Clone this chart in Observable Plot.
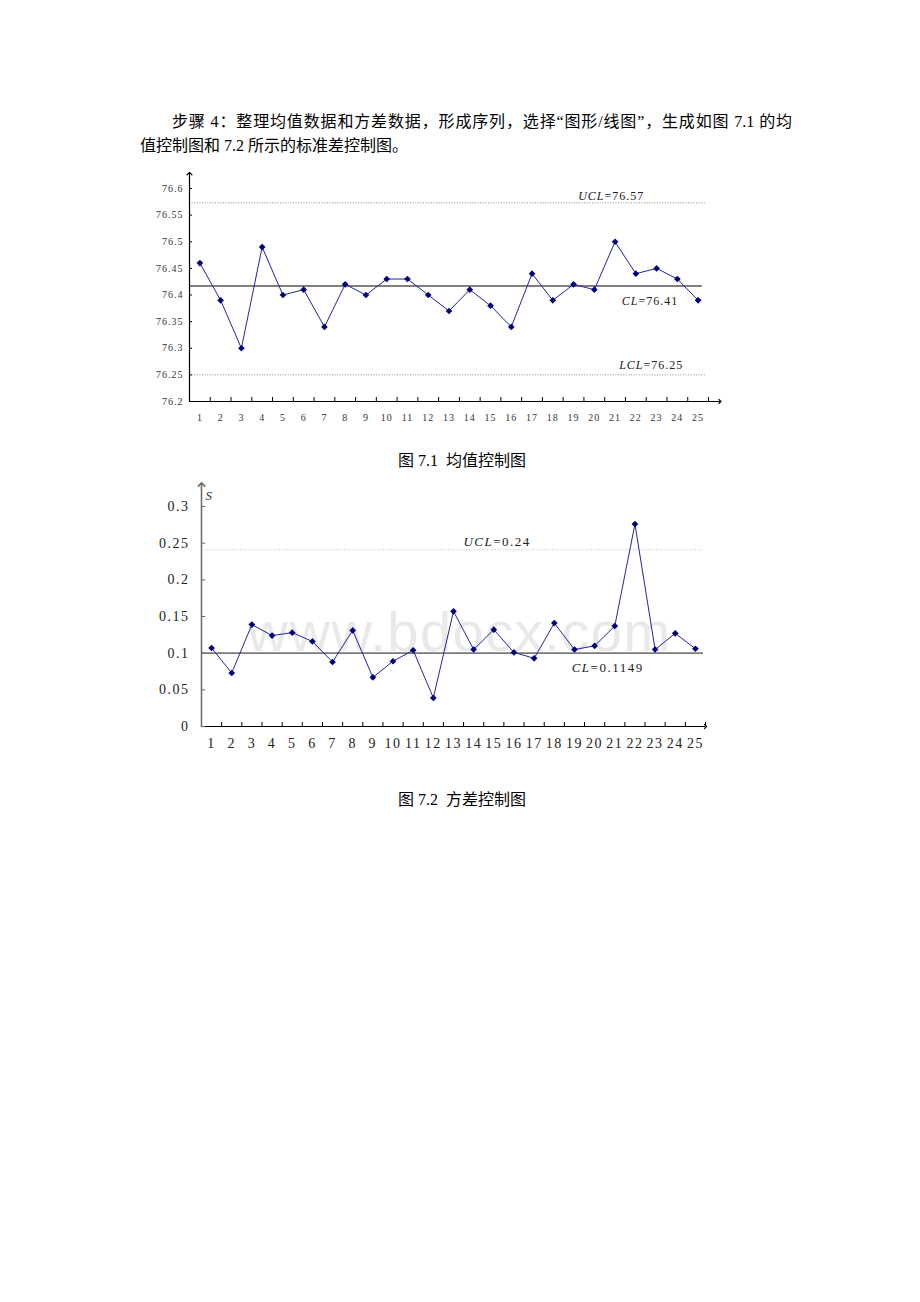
<!DOCTYPE html>
<html lang="zh-CN"><head><meta charset="utf-8">
<script src="https://cdn.jsdelivr.net/npm/d3@7"></script>
<script src="https://cdn.jsdelivr.net/npm/@observablehq/plot@0.6"></script>
<style>
body{margin:0;background:#fff;width:920px;height:1302px;position:relative;overflow:hidden;font-family:"Liberation Serif","Noto Sans CJK SC",serif;color:#000;}
.p{position:absolute;font-size:16px;line-height:24px;}
#l1{left:172px;top:110px;width:620px;text-align:justify;text-align-last:justify;}
#l2{left:140px;top:134px;white-space:nowrap;}
.cap{position:absolute;left:0;width:920px;text-align:center;font-size:16px;line-height:24px;white-space:pre;}
#c1{top:449px;padding-left:2px}
#c2{top:788px;padding-left:2px}
#ch1{position:absolute;left:0;top:170px}
#ch2{position:absolute;left:0;top:480px}
#ch1 svg text{letter-spacing:1px}
#ch2 svg text{letter-spacing:1.5px}
#ch2 svg text.wm{letter-spacing:0}
</style></head>
<body>
<div class="p" id="l1">步骤 4：整理均值数据和方差数据，形成序列，选择“图形/线图”，生成如图 7.1 的均</div>
<div class="p" id="l2">值控制图和 7.2 所示的标准差控制图。</div>
<div id="ch1"></div>
<div class="cap" id="c1">图 7.1  均值控制图</div>
<div id="ch2"></div>
<div class="cap" id="c2">图 7.2  方差控制图</div>
<script>
// ---------- data ----------
const samples = d3.range(1, 26);
const meanValues = [76.46,76.39,76.30,76.49,76.40,76.41,76.34,76.42,76.40,76.43,76.43,76.40,76.37,76.41,76.38,76.34,76.44,76.39,76.42,76.41,76.50,76.44,76.45,76.43,76.39];
const meanTicks = [76.2,76.25,76.3,76.35,76.4,76.45,76.5,76.55,76.6];
const meanLimitNames = ["UCL","CL","LCL"];
const meanLimitValues = [76.573, 76.417, 76.25];
const meanLimitTexts = ["=76.57","=76.41","=76.25"];

const sdValues = [0.107,0.073,0.139,0.124,0.128,0.116,0.088,0.131,0.067,0.089,0.104,0.039,0.157,0.105,0.132,0.101,0.093,0.141,0.105,0.110,0.137,0.276,0.105,0.127,0.106];
const sdTicks = [0,0.05,0.1,0.15,0.2,0.25,0.3];
const sdLimitNames = ["UCL","CL"];
const sdLimitValues = [0.241, 0.1];
const sdLimitTexts = ["=0.24","=0.1149"];

// ---------- helpers ----------
const xDomain = [0.5, 25.5];
const bounds = d3.range(1.5, 26, 1);
const fmt = d => String(+d.toFixed(2));

function limitLabels(names, values, texts, xs, dys, size) {
  const marks = [];
  names.forEach((n, i) => {
    const row = [{n, v: values[i], t: texts[i]}];
    marks.push(Plot.text(row, {x: () => xs[i], y: "v", text: "n", dy: dys[i], textAnchor: "end", fontStyle: "italic", fontSize: size, fill: "#222"}));
    marks.push(Plot.text(row, {x: () => xs[i], y: "v", text: "t", dy: dys[i], textAnchor: "start", fontSize: size, fill: "#222"}));
  });
  return marks;
}

// ---------- chart 1 ----------
{
  const yDom = [76.2, 76.6];
  const ySpan = yDom[1] - yDom[0];
  const ucl = meanLimitValues[0], cl = meanLimitValues[1], lcl = meanLimitValues[2];
  const data = samples.map((s, i) => ({s, v: meanValues[i]}));
  const chart = Plot.plot({
    width: 920, height: 270,
    marginLeft: 189, marginRight: 212, marginTop: 18, marginBottom: 39,
    x: {domain: xDomain, label: null}, y: {domain: yDom, label: null},
    style: {fontFamily: "Liberation Serif", fontSize: "10px", color: "#333", background: "transparent", overflow: "visible"},
    marks: [
      Plot.ruleY([ucl, lcl], {y: d => d, x1: 0.5, x2: 25.4, stroke: "#8c8c8c", strokeDasharray: "1,1.6", strokeWidth: 1}),
      Plot.ruleY([cl], {y: d => d, x1: 0.5, x2: 25.2, stroke: "#000", strokeWidth: 1.1}),
      Plot.line(data, {x: "s", y: "v", stroke: "#2424a0", strokeWidth: 1}),
      Plot.dot(data, {x: "s", y: "v", symbol: "diamond2", r: 3, fill: "#00007a", stroke: null}),
      ...limitLabels(meanLimitNames, meanLimitValues, meanLimitTexts, [20.49, 22.13, 22.37], [-7, 15, -10], 12),
      // axes
      Plot.link([0], {x1: 0.5, y1: yDom[0], x2: 0.5, y2: yDom[1] + ySpan * 0.07, stroke: "#000", strokeWidth: 1.2, markerEnd: "arrow"}),
      Plot.link([0], {x1: 0.5, y1: yDom[0], x2: xDomain[1] + 0.55, y2: yDom[0], stroke: "#000", strokeWidth: 1.1, markerEnd: "arrow"}),
      Plot.ruleY(meanTicks, {y: d => d, x1: 0.5, x2: 0.5, insetRight: -3, stroke: "#000"}),
      Plot.ruleX(bounds, {x: d => d, y1: yDom[0], y2: yDom[0], insetTop: -4, stroke: "#000"}),
      Plot.axisY({ticks: meanTicks, tickSize: 0, tickPadding: 6, tickFormat: fmt, fill: "#333", label: null}),
      Plot.axisX({ticks: samples, tickSize: 0, tickPadding: 12, tickFormat: d => d, fill: "#333", label: null})
    ]
  });
  document.getElementById("ch1").append(chart);
}

// ---------- chart 2 ----------
{
  const yDom = [0, 0.3];
  const ySpan = yDom[1] - yDom[0];
  const data = samples.map((s, i) => ({s, v: sdValues[i]}));
  const chart = Plot.plot({
    width: 920, height: 280,
    marginLeft: 201, marginRight: 215, marginTop: 26, marginBottom: 34,
    x: {domain: xDomain, label: null}, y: {domain: yDom, label: null},
    style: {fontFamily: "Liberation Serif", fontSize: "14px", color: "#222", background: "transparent", overflow: "visible"},
    marks: [
      Plot.text(["www.bdocx.com"], {x: 13.3, y: 0.1036, text: d => d, lineAnchor: "bottom", fontFamily: "Liberation Sans", fontSize: 56, fill: "#e9e9e9", className: "wm"}),
      Plot.ruleY([sdLimitValues[0]], {y: d => d, x1: 0.5, x2: 25.4, stroke: "#bdbdbd", strokeDasharray: "1,1.6", strokeWidth: 1}),
      Plot.ruleY([sdLimitValues[1]], {y: d => d, x1: 0.5, x2: 25.4, stroke: "#7a7a7a", strokeWidth: 1.8}),
      Plot.line(data, {x: "s", y: "v", stroke: "#2424a0", strokeWidth: 1}),
      Plot.dot(data, {x: "s", y: "v", symbol: "diamond2", r: 3, fill: "#00007a", stroke: null}),
      ...limitLabels(sdLimitNames, sdLimitValues, sdLimitTexts, [14.97, 19.8], [-8, 15], 13),
      Plot.text(["S"], {x: 0.5, y: yDom[1] + ySpan * 0.05, text: d => d, dx: 4, textAnchor: "start", fontStyle: "italic", fontSize: 13, fill: "#333"}),
      // axes
      Plot.link([0], {x1: 0.5, y1: yDom[0], x2: 0.5, y2: yDom[1] + ySpan * 0.1, stroke: "#6e6e6e", strokeWidth: 1.6, markerEnd: "arrow"}),
      Plot.link([0], {x1: 0.5, y1: yDom[0], x2: xDomain[1], y2: yDom[0], stroke: "#000", strokeWidth: 1.1, markerEnd: "arrow"}),
      Plot.ruleY(sdTicks, {y: d => d, x1: 0.5, x2: 0.5, insetRight: -4, stroke: "#666"}),
      Plot.ruleX(bounds, {x: d => d, y1: yDom[0], y2: yDom[0], insetTop: -4, stroke: "#000"}),
      Plot.axisY({ticks: sdTicks, tickSize: 0, tickPadding: 12, tickFormat: fmt, fill: "#222", label: null}),
      Plot.axisX({ticks: samples, tickSize: 0, tickPadding: 12, tickFormat: d => d, fill: "#222", label: null})
    ]
  });
  document.getElementById("ch2").append(chart);
}
</script>
</body></html>
